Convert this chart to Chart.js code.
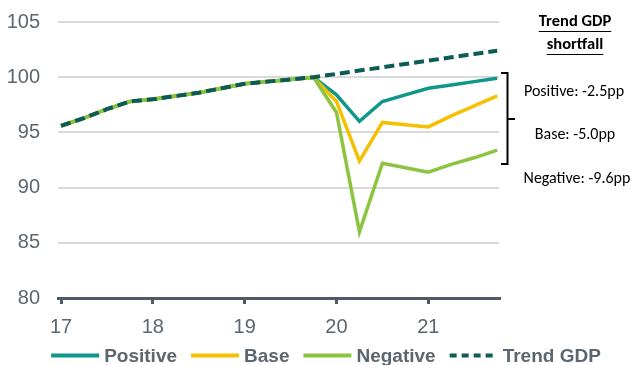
<!DOCTYPE html>
<html>
<head>
<meta charset="utf-8">
<script src="https://cdn.jsdelivr.net/npm/chart.js@4/dist/chart.umd.min.js"></script>
<style>
  html, body { margin: 0; padding: 0; background: #ffffff; }
  #wrap { width: 631px; height: 365px; position: relative; }
</style>
</head>
<body>
<div id="wrap"><canvas id="gdp" width="631" height="365"></canvas></div>
<script>
// Quarterly GDP index (2019Q4 = 100)
const quarters = [
  '17Q1', '17Q2', '17Q3', '17Q4',
  '18Q1', '18Q2', '18Q3', '18Q4',
  '19Q1', '19Q2', '19Q3', '19Q4',
  '20Q1', '20Q2', '20Q3', '20Q4',
  '21Q1', '21Q2', '21Q3', '21Q4'
];
// Outturn shared by every scenario, 17Q1 to 19Q4
const history = [95.6, 96.3, 97.1, 97.8, 98.0, 98.3, 98.6, 99.0, 99.4, 99.6, 99.8, 100.0];
// Scenario paths, 20Q1 to 21Q4
const positiveOutlook = [98.4, 96.0, 97.8, 98.4, 99.0, 99.3, 99.6, 99.9];
const baseOutlook     = [97.8, 92.4, 95.9, 95.7, 95.5, 96.5, 97.4, 98.3];
const negativeOutlook = [96.8, 86.0, 92.2, 91.8, 91.4, 92.1, 92.7, 93.4];
const trendOutlook    = [100.3, 100.6, 100.9, 101.2, 101.5, 101.8, 102.1, 102.4];

const yearTicks = [17, 18, 19, 20, 21];
const yTickValues = [80, 85, 90, 95, 100, 105];
const shortfallTitle = ['Trend GDP', 'shortfall'];
const shortfallLabels = ['Positive: -2.5pp', 'Base: -5.0pp', 'Negative: -9.6pp'];

const AXIS_GREY = '#4f5a64';
const TEXT_GREY = '#5b6670';
const COLORS = {
  positive: '#0e978a',
  base: '#f4c000',
  negative: '#8dc43f',
  trend: '#0b5c54'
};

// '17Q3' -> 17.5 (fractional year)
const toYear = q => Number(q.slice(0, 2)) + (Number(q.slice(3)) - 1) / 4;
const series = values => values.map((v, i) => ({ x: toYear(quarters[i]), y: v }));

const datasets = [
  { label: 'Positive',  data: series(history.concat(positiveOutlook)), borderColor: COLORS.positive, borderWidth: 3.5, order: 3 },
  { label: 'Base',      data: series(history.concat(baseOutlook)),     borderColor: COLORS.base,     borderWidth: 3.5, order: 2 },
  { label: 'Negative',  data: series(history.concat(negativeOutlook)), borderColor: COLORS.negative, borderWidth: 3.5, order: 1 },
  { label: 'Trend GDP', data: series(history.concat(trendOutlook)),    borderColor: COLORS.trend,    borderWidth: 4, borderDash: [10, 5], order: 0 }
];

// Legend row along the bottom edge
const keyRow = {
  id: 'keyRow',
  afterDraw(chart) {
    const ctx = chart.ctx;
    const lineLen = 48, textGap = 5, itemGap = 14, cy = 355.5;
    ctx.save();
    ctx.font = 'bold 19px "Liberation Sans", Arial, sans-serif';
    const items = chart.data.datasets.map(ds => ({ ds, w: ctx.measureText(ds.label).width }));
    const total = items.reduce((s, it) => s + lineLen + textGap + it.w, 0) + itemGap * (items.length - 1);
    let x = 326 - total / 2;
    items.forEach(({ ds, w }) => {
      ctx.beginPath();
      ctx.strokeStyle = ds.borderColor;
      ctx.lineWidth = 4;
      ctx.lineCap = 'butt';
      ctx.setLineDash(ds.borderDash ? [7, 5] : []);
      ctx.moveTo(x, cy);
      ctx.lineTo(x + lineLen, cy);
      ctx.stroke();
      ctx.setLineDash([]);
      ctx.fillStyle = TEXT_GREY;
      ctx.textBaseline = 'middle';
      ctx.textAlign = 'left';
      ctx.fillText(ds.label, x + lineLen + textGap, cy + 1);
      x += lineLen + textGap + w + itemGap;
    });
    ctx.restore();
  }
};

// Shortfall note and bracket to the right of the plot
const shortfallNote = {
  id: 'shortfallNote',
  afterDraw(chart) {
    const ctx = chart.ctx;
    ctx.save();
    ctx.fillStyle = '#000000';
    ctx.strokeStyle = '#000000';
    ctx.textAlign = 'center';
    ctx.textBaseline = 'middle';

    ctx.font = 'bold 16.5px Carlito, Lato, sans-serif';
    [[shortfallTitle[0], 22], [shortfallTitle[1], 45]].forEach(([t, y]) => {
      ctx.fillText(t, 575, y);
      const w = ctx.measureText(t).width;
      ctx.lineWidth = 1;
      ctx.beginPath();
      ctx.moveTo(575 - w / 2, y + 9.5);
      ctx.lineTo(575 + w / 2, y + 9.5);
      ctx.stroke();
    });

    ctx.font = '16px Carlito, Lato, sans-serif';
    ctx.fillText(shortfallLabels[0], 574, 92);
    ctx.fillText(shortfallLabels[1], 575, 135);
    ctx.fillText(shortfallLabels[2], 577, 179);

    ctx.lineWidth = 2;
    ctx.beginPath();
    ctx.moveTo(501, 73);
    ctx.lineTo(507.5, 73);
    ctx.lineTo(507.5, 164);
    ctx.lineTo(501, 164);
    ctx.moveTo(507.5, 119);
    ctx.lineTo(515, 119);
    ctx.stroke();
    ctx.restore();
  }
};

new Chart(document.getElementById('gdp'), {
  type: 'line',
  data: { datasets },
  options: {
    responsive: false,
    animation: false,
    devicePixelRatio: 1,
    layout: { padding: { left: 0, right: 132, top: 22, bottom: 0 } },
    elements: {
      point: { radius: 0 },
      line: { tension: 0, borderCapStyle: 'butt', borderJoinStyle: 'miter' }
    },
    plugins: {
      legend: { display: false },
      tooltip: { enabled: false }
    },
    scales: {
      x: {
        type: 'linear',
        min: 16.967,
        max: 21.77,
        afterBuildTicks: s => { s.ticks = yearTicks.map(v => ({ value: v })); },
        afterFit: s => { s.height = 67; },
        ticks: {
          color: TEXT_GREY,
          font: { family: '"Liberation Sans", Arial, sans-serif', size: 20 },
          padding: 11,
          maxRotation: 0,
          callback: v => String(v)
        },
        grid: { drawOnChartArea: false, drawTicks: true, tickLength: 6, color: AXIS_GREY, lineWidth: 3 },
        border: { display: true, color: AXIS_GREY, width: 3 }
      },
      y: {
        min: 80,
        max: 105,
        afterBuildTicks: s => { s.ticks = yTickValues.map(v => ({ value: v })); },
        afterFit: s => { s.width = 58; s.paddingTop = 0; s.paddingBottom = 0; },
        ticks: {
          color: TEXT_GREY,
          font: { family: '"Liberation Sans", Arial, sans-serif', size: 20 },
          padding: 18
        },
        grid: { color: '#d9d9d9', lineWidth: 2, drawTicks: false },
        border: { display: false }
      }
    }
  },
  plugins: [keyRow, shortfallNote]
});
</script>
</body>
</html>
